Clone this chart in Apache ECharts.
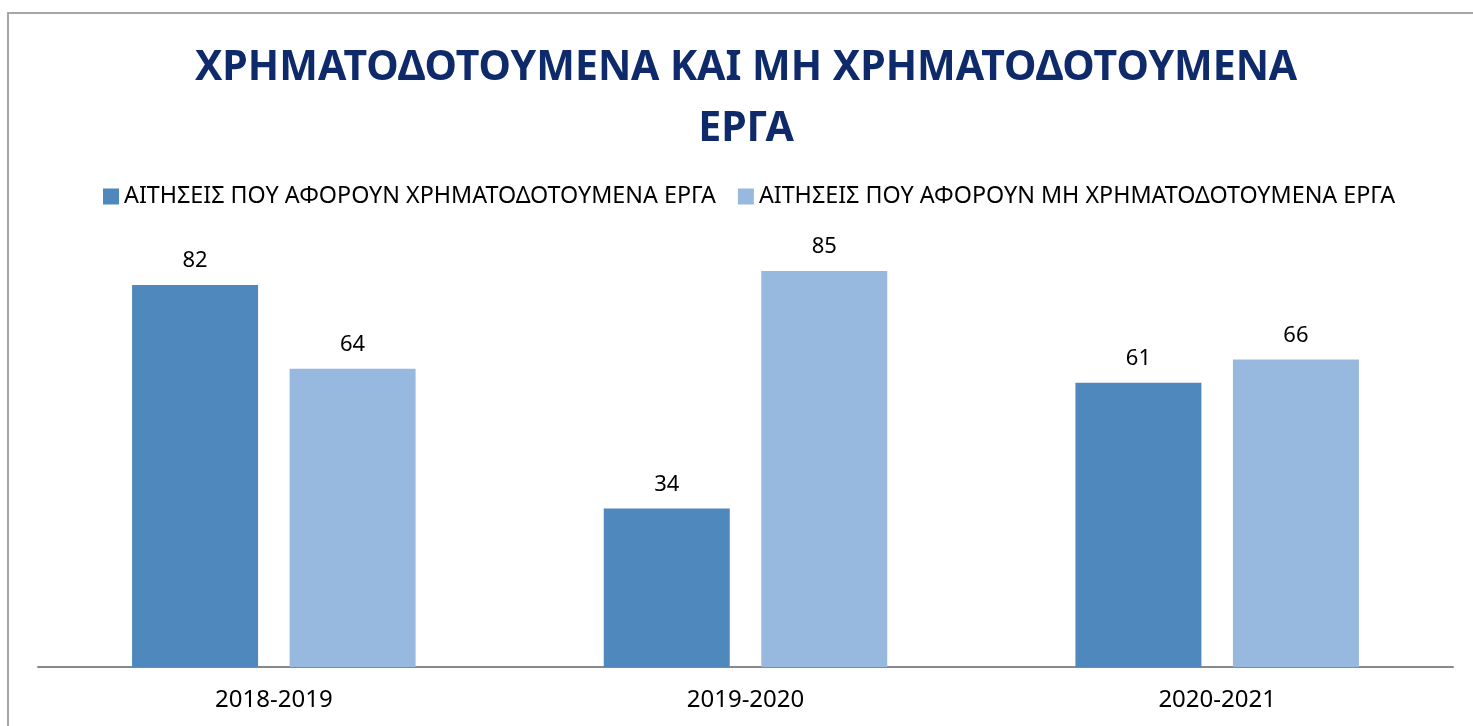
<!DOCTYPE html>
<html>
<head>
<meta charset="utf-8">
<script src="https://cdn.jsdelivr.net/npm/echarts@6/dist/echarts.min.js"></script>
<style>html,body{margin:0;padding:0;background:#fff;}#c{width:1473px;height:726px;}</style>
</head>
<body>
<div id="c"></div>
<script>
const categories = ['2018-2019', '2019-2020', '2020-2021'];
const seriesNames = ['ΑΙΤΗΣΕΙΣ ΠΟΥ ΑΦΟΡΟΥΝ ΧΡΗΜΑΤΟΔΟΤΟΥΜΕΝΑ ΕΡΓΑ', 'ΑΙΤΗΣΕΙΣ ΠΟΥ ΑΦΟΡΟΥΝ ΜΗ ΧΡΗΜΑΤΟΔΟΤΟΥΜΕΝΑ ΕΡΓΑ'];
const funded = [82, 34, 61];
const nonFunded = [64, 85, 66];
const titleText = 'ΧΡΗΜΑΤΟΔΟΤΟΥΜΕΝΑ ΚΑΙ ΜΗ ΧΡΗΜΑΤΟΔΟΤΟΥΜΕΝΑ\nΕΡΓΑ';

const chart = echarts.init(document.getElementById('c'), null, {renderer: 'canvas'});
const font = '"Noto Sans", "Open Sans", sans-serif';
const labelCfg = {show: true, position: 'top', distance: 13, color: '#000', fontSize: 22, fontFamily: font};
chart.setOption({
  animation: false,
  backgroundColor: '#fff',
  graphic: [{
    type: 'rect', shape: {x: 8, y: 13, width: 1500, height: 800},
    style: {fill: 'none', stroke: '#a6a6a6', lineWidth: 2}, silent: true, z: -1
  }],
  title: {
    text: titleText, left: 741, top: 33, textAlign: 'center',
    textStyle: {fontFamily: font, fontWeight: 'bold', fontSize: 41, color: '#0e2a6b', lineHeight: 61}
  },
  legend: {
    data: seriesNames, top: 180, left: 98, icon: 'rect', itemWidth: 16, itemHeight: 16, itemGap: 22,
    textStyle: {fontFamily: font, fontSize: 23.3, color: '#000'}
  },
  grid: {left: 38, right: 20, top: 201, bottom: 59, containLabel: false},
  xAxis: {
    type: 'category', data: categories,
    axisLine: {lineStyle: {color: '#888', width: 2}},
    axisTick: {show: false},
    axisLabel: {color: '#000', fontSize: 24, fontFamily: font, margin: 21}
  },
  yAxis: {type: 'value', min: 0, max: 100, show: false, splitLine: {show: false}},
  series: [
    {name: seriesNames[0], type: 'bar', data: funded, barWidth: 126, barGap: '25%', itemStyle: {color: '#4f88bd'}, label: labelCfg},
    {name: seriesNames[1], type: 'bar', data: nonFunded, barWidth: 126, itemStyle: {color: '#98b9df'}, label: labelCfg}
  ]
});
</script>
</body>
</html>
